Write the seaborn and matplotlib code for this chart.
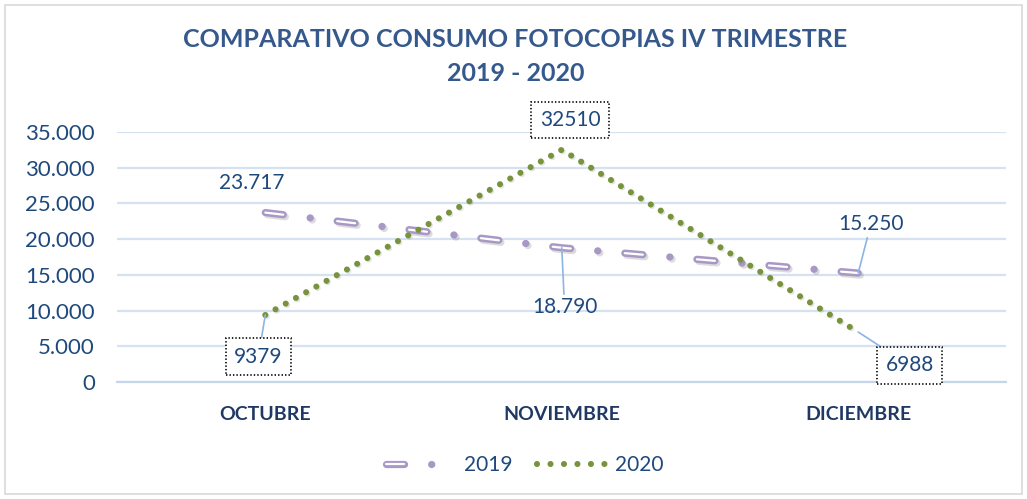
import matplotlib
matplotlib.use("Agg")
import matplotlib.pyplot as plt
import seaborn as sns
import pandas as pd
from matplotlib.lines import Line2D
from matplotlib.legend_handler import HandlerTuple
from matplotlib.patches import Rectangle
import matplotlib.patheffects as pe

# ---- data ----
months = ["OCTUBRE", "NOVIEMBRE", "DICIEMBRE"]
values_2019 = [23717, 18790, 15250]
values_2020 = [9379, 32510, 6988]
labels_2019 = ["23.717", "18.790", "15.250"]
labels_2020 = ["9379", "32510", "6988"]
y_ticks = [0, 5000, 10000, 15000, 20000, 25000, 30000, 35000]
y_tick_labels = ["0", "5.000", "10.000", "15.000", "20.000", "25.000", "30.000", "35.000"]
title = "COMPARATIVO CONSUMO FOTOCOPIAS IV TRIMESTRE\n2019 - 2020"

sns.set_theme(style="white")
plt.rcParams["font.family"] = ["Lato", "DejaVu Sans"]
plt.rcParams["lines.scale_dashes"] = False

TXT = "#1f497d"
LAV = "#a898c6"
GREEN = "#77933c"
GRID = "#d6e1f1"

df = pd.DataFrame({"pos": range(len(months)), "m": months,
                   "v2019": values_2019, "v2020": values_2020})

fig = plt.figure(figsize=(10.27, 4.99), dpi=100)
ax = fig.add_axes([0.114, 0.2345, 0.866, 0.501])

# 2019 series: double-line dash-dot
sns.lineplot(data=df, x="pos", y="v2019", ax=ax, color=LAV, lw=5.2, legend=False)
l19 = ax.lines[-1]
l19.set_dashes((13, 19.5, 0.1, 19.5))
l19.set_dash_capstyle("round")
l19.set_path_effects([pe.SimpleLineShadow(offset=(1.5, -1.5), alpha=0.25, shadow_color="#777777"), pe.Normal()])
sns.lineplot(data=df, x="pos", y="v2019", ax=ax, color="white", lw=1.6, legend=False)
l19w = ax.lines[-1]
l19w.set_dashes((13, 39.1))
l19w.set_dash_capstyle("round")

# 2020 series: dotted
sns.lineplot(data=df, x="pos", y="v2020", ax=ax, color=GREEN, lw=4.4, legend=False)
l20 = ax.lines[-1]
l20.set_dashes((0.01, 8.4))
l20.set_dash_capstyle("round")
l20.set_path_effects([pe.SimpleLineShadow(offset=(1, -1), alpha=0.2, shadow_color="#777777"), pe.Normal()])

ax.set_xlim(-0.5, 2.5)
ax.set_ylim(0, 35000)
ax.set_yticks(y_ticks)
ax.set_yticklabels(y_tick_labels, color=TXT, fontsize=16)
ax.set_xticks(range(len(months)))
ax.set_xticklabels(months, color="#203864", fontsize=14, fontweight="bold")
ax.set_xlabel("")
ax.set_ylabel("")
ax.yaxis.grid(True, color=GRID, lw=1.6)
ax.set_axisbelow(True)
for s in ["top", "right", "left"]:
    ax.spines[s].set_visible(False)
ax.spines["bottom"].set_color("#c5d5ea")
ax.spines["bottom"].set_linewidth(1.6)
ax.tick_params(axis="y", length=0, pad=16)
ax.tick_params(axis="x", length=0, pad=17)
ax.set_xticks([-0.5, 0.5, 1.5, 2.5], minor=True)
ax.tick_params(axis="x", which="minor", length=6, width=1.6, color="#c5d5ea", direction="out")

# data labels
lead = dict(arrowstyle="-", color="#8eb4e3", lw=1.2, shrinkA=0, shrinkB=0)
box = dict(boxstyle="square,pad=0.4", fc="white", ec="black", ls=(0, (1, 1.5)), lw=1.2)
lab_off_2019 = [(-10, 21), (2, -43), (9, 35)]
lab_off_2020 = [(-5, -30), (6, 21.5), (37, -24)]
for i, (v, t) in enumerate(zip(values_2019, labels_2019)):
    ax.annotate(t, (i, v), xytext=lab_off_2019[i], textcoords="offset points",
                ha="center", va="center", color=TXT, fontsize=15,
                arrowprops=lead if i > 0 else None)
for i, (v, t) in enumerate(zip(values_2020, labels_2020)):
    ax.annotate(t, (i, v), xytext=lab_off_2020[i], textcoords="offset points",
                ha="center", va="center", color=TXT, fontsize=15, bbox=box,
                arrowprops=lead if i != 1 else None)

# title
fig.text(0.502, 0.887, title, ha="center", va="center", fontsize=18, fontweight="bold",
         color="#35598c", linespacing=1.6)

# legend
h19a = Line2D([], [], color=LAV, lw=5.2, dashes=(13, 19.5, 0.1, 60), dash_capstyle="round")
h19b = Line2D([], [], color="white", lw=1.6, dashes=(13, 80), dash_capstyle="round")
h20 = Line2D([], [], color=GREEN, lw=4.4, dashes=(0.01, 9.7), dash_capstyle="round")
leg = fig.legend([(h19a, h19b), h20], ["2019", "2020"], loc="center", bbox_to_anchor=(0.511, 0.068),
                 ncol=2, frameon=False, fontsize=15, handlelength=3.5, handletextpad=0.25,
                 columnspacing=1.15, handler_map={tuple: HandlerTuple(ndivide=1, pad=0)})
for t in leg.get_texts():
    t.set_color(TXT)

# chart border
fig.patches.append(Rectangle((0.005, 0.01), 0.99, 0.98, transform=fig.transFigure,
                             fill=False, ec="#d9d9d9", lw=1.2))

fig.savefig("out.png", dpi=100, facecolor="white")
